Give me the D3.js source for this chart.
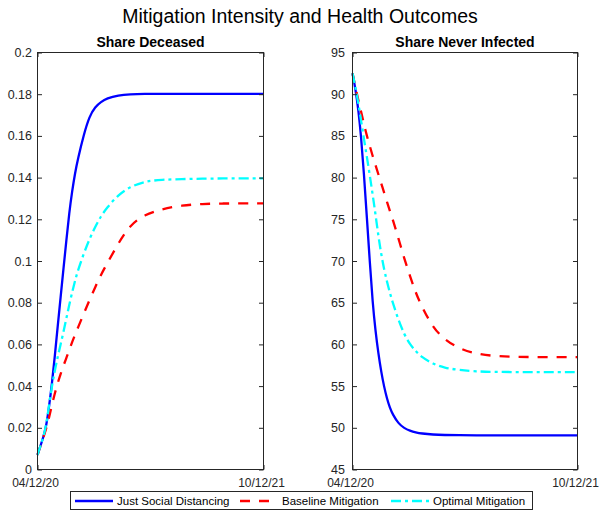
<!DOCTYPE html>
<html>
<head>
<meta charset="utf-8">
<script src="https://cdn.jsdelivr.net/npm/d3@7"></script>
<style>
  html, body { margin: 0; padding: 0; background: #fff; }
  svg { display: block; font-family: "Liberation Sans", Arial, Helvetica, sans-serif; }
</style>
</head>
<body>
<svg id="chart" width="599" height="512"></svg>
<script>
// Days elapsed since 12 April 2020 at which each series is sampled
const days = [0, 7, 14, 21, 28, 35, 42, 49, 56, 63, 70, 77, 84, 91, 98, 112, 126, 140, 154, 168, 196, 224, 259, 301, 350, 400, 450, 500, 548];

// Share of population deceased
const deceasedSocialDistancing = [0.0070, 0.0112, 0.0155, 0.0204, 0.0300, 0.0410, 0.0543, 0.0688, 0.0826, 0.0963, 0.1100, 0.1232, 0.1335, 0.1422, 0.1490, 0.1605, 0.1695, 0.1740, 0.1763, 0.1780, 0.1795, 0.1800, 0.1802, 0.1802, 0.1802, 0.1802, 0.1802, 0.1802, 0.1802];
const deceasedBaseline = [0.0070, 0.0112, 0.0152, 0.0195, 0.0248, 0.0310, 0.0365, 0.0415, 0.0458, 0.0498, 0.0535, 0.0572, 0.0612, 0.0646, 0.0680, 0.0747, 0.0812, 0.0875, 0.0935, 0.0985, 0.1085, 0.1172, 0.1222, 0.1249, 0.1267, 0.1274, 0.1276, 0.1276, 0.1276];
const deceasedOptimal = [0.0070, 0.0112, 0.0155, 0.0210, 0.0310, 0.0400, 0.0475, 0.0540, 0.0600, 0.0660, 0.0725, 0.0790, 0.0850, 0.0905, 0.0955, 0.1035, 0.1105, 0.1165, 0.1215, 0.1255, 0.1318, 0.1355, 0.1382, 0.1390, 0.1393, 0.1395, 0.1396, 0.1396, 0.1396];

// Share of population never infected (percent)
const neverInfectedSocialDistancing = [92.5, 90.7, 88.3, 84.9, 80.4, 75.2, 70.0, 65.0, 61.6, 58.9, 56.7, 54.9, 53.5, 52.4, 51.6, 50.5, 49.95, 49.65, 49.45, 49.32, 49.18, 49.13, 49.11, 49.1, 49.1, 49.1, 49.1, 49.1, 49.1];
const neverInfectedBaseline = [92.5, 90.9, 89.3, 87.9, 86.4, 85.0, 83.8, 82.6, 81.5, 80.4, 79.3, 78.2, 77.1, 76.0, 75.0, 72.7, 70.3, 68.2, 66.2, 64.6, 62.0, 60.6, 59.5, 58.85, 58.58, 58.5, 58.48, 58.48, 58.48];
const neverInfectedOptimal = [92.5, 90.9, 89.0, 86.8, 84.6, 82.5, 80.3, 78.0, 75.6, 73.0, 70.8, 69.0, 67.5, 66.2, 65.0, 62.9, 61.2, 60.0, 59.2, 58.5, 57.65, 57.2, 56.92, 56.75, 56.7, 56.68, 56.68, 56.68, 56.68];

// Axis tick values and labels
const deceasedTicks = [0, 0.02, 0.04, 0.06, 0.08, 0.1, 0.12, 0.14, 0.16, 0.18, 0.2];
const neverInfectedTicks = [45, 50, 55, 60, 65, 70, 75, 80, 85, 90, 95];
const dateTickLabels = ["04/12/20", "10/12/21"];

const seriesNames = ["Just Social Distancing", "Baseline Mitigation", "Optimal Mitigation"];
const seriesColors = ["#0000ff", "#ff0000", "#00ffff"];
const seriesDashes = [null, "10,9", "10,4,3,4"];

const startDate = new Date(2020, 3, 12);
const dates = days.map(d => d3.timeDay.offset(startDate, d));
const endDate = d3.timeDay.offset(startDate, days[days.length - 1]);

const svg = d3.select("#chart");
const axisColor = "#262626";

svg.append("text")
  .attr("x", 300).attr("y", 22.5)
  .attr("text-anchor", "middle")
  .attr("font-size", 19.5)
  .attr("fill", "#000")
  .text("Mitigation Intensity and Health Outcomes");

function drawPanel(opts) {
  const { left, right, top, bottom, domain, ticks, tickFormat, labelPad, title, series } = opts;
  const x = d3.scaleTime().domain([startDate, endDate]).range([left, right]);
  const y = d3.scaleLinear().domain(domain).range([bottom, top]);
  const g = svg.append("g");

  const line = d3.line()
    .x((d, i) => x(dates[i]))
    .y(d => y(d))
    .curve(d3.curveBasis);

  series.forEach((vals, k) => {
    g.append("path")
      .attr("d", line(vals))
      .attr("fill", "none")
      .attr("stroke", seriesColors[k])
      .attr("stroke-width", 2.3)
      .attr("stroke-dasharray", seriesDashes[k]);
  });

  // left axis with inward ticks
  const yAxisL = d3.axisLeft(y).tickValues(ticks).tickFormat(tickFormat)
    .tickSizeInner(-4.5).tickSizeOuter(0).tickPadding(labelPad);
  const gl = g.append("g").attr("transform", `translate(${left},0)`).call(yAxisL);
  // mirrored ticks on the right edge
  const yAxisR = d3.axisRight(y).tickValues(ticks).tickFormat("")
    .tickSizeInner(-4.5).tickSizeOuter(0);
  const gr = g.append("g").attr("transform", `translate(${right},0)`).call(yAxisR);
  // date axis
  const xAxis = d3.axisBottom(x).tickValues([startDate, endDate])
    .tickFormat((d, i) => dateTickLabels[i])
    .tickSizeInner(-4.5).tickSizeOuter(0).tickPadding(8.5);
  const gb = g.append("g").attr("transform", `translate(0,${bottom})`).call(xAxis);
  const gt = g.append("g").attr("transform", `translate(0,${top})`)
    .call(d3.axisTop(x).tickValues([startDate, endDate]).tickFormat("").tickSizeInner(-4.5).tickSizeOuter(0));

  [gl, gr, gb, gt].forEach(a => {
    a.select(".domain").remove();
    a.selectAll("line").attr("stroke", axisColor);
    a.selectAll("text").attr("fill", axisColor).attr("font-size", 12.5)
      .attr("font-family", "Liberation Sans, Arial, sans-serif");
  });
  gb.selectAll("text").attr("font-size", 12).attr("dy", "0.75em").attr("dx", -2.5);

  // axes box
  g.append("rect")
    .attr("x", left).attr("y", top)
    .attr("width", right - left).attr("height", bottom - top)
    .attr("fill", "none").attr("stroke", axisColor).attr("stroke-width", 1);

  g.append("text")
    .attr("x", (left + right) / 2).attr("y", top - 6)
    .attr("text-anchor", "middle")
    .attr("font-size", 14).attr("font-weight", "bold")
    .attr("fill", "#000")
    .text(title);
}

drawPanel({
  left: 37.5, right: 263.5, top: 52.5, bottom: 469.5,
  domain: [0, 0.2], ticks: deceasedTicks,
  tickFormat: d => d === 0 ? "0" : String(+d.toFixed(2)),
  labelPad: 5.5,
  title: "Share Deceased",
  series: [deceasedSocialDistancing, deceasedBaseline, deceasedOptimal]
});

drawPanel({
  left: 352.5, right: 577.5, top: 52.5, bottom: 469.5,
  domain: [45, 95], ticks: neverInfectedTicks,
  tickFormat: d3.format("d"),
  labelPad: 7.5,
  title: "Share Never Infected",
  series: [neverInfectedSocialDistancing, neverInfectedBaseline, neverInfectedOptimal]
});

// legend
const legend = svg.append("g");
legend.append("rect")
  .attr("x", 70.5).attr("y", 491.5).attr("width", 462).attr("height", 18)
  .attr("fill", "#fff").attr("stroke", axisColor).attr("stroke-width", 1);

const legendItems = [
  { x0: 75, x1: 113, tx: 117 },
  { x0: 240, x1: 277, tx: 282 },
  { x0: 391, x1: 430, tx: 433 }
];
legendItems.forEach((it, k) => {
  legend.append("line")
    .attr("x1", it.x0).attr("x2", it.x1)
    .attr("y1", 501).attr("y2", 501)
    .attr("stroke", seriesColors[k]).attr("stroke-width", 2.3)
    .attr("stroke-dasharray", seriesDashes[k]);
  legend.append("text")
    .attr("x", it.tx).attr("y", 505)
    .attr("font-size", 11.5).attr("fill", "#000")
    .text(seriesNames[k]);
});
</script>
</body>
</html>
